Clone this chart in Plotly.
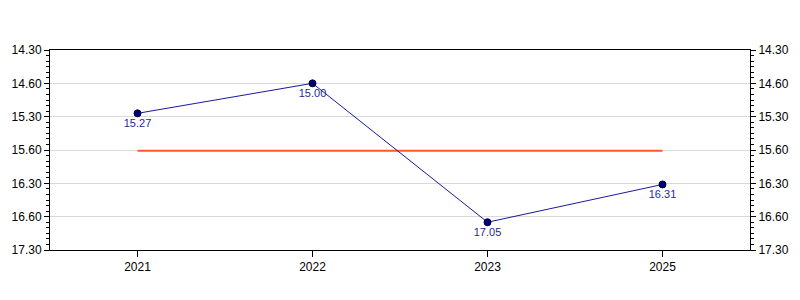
import plotly.graph_objects as go

years = ["2021", "2022", "2023", "2025"]
# times as minutes.seconds labels and their value in minutes
time_labels = ["15.27", "15.00", "17.05", "16.31"]
time_minutes = [15 + 27/60, 15.0, 17 + 5/60, 16 + 31/60]
avg_value = sum(time_minutes) / len(time_minutes)
avg_minutes = [avg_value] * len(years)

tick_vals = [14.5, 15.0, 15.5, 16.0, 16.5, 17.0, 17.5]
tick_text = ["14.30", "14.60", "15.30", "15.60", "16.30", "16.60", "17.30"]

fig = go.Figure()
fig.add_trace(go.Scatter(
    x=years, y=avg_minutes, mode="lines",
    line=dict(color="#FF5A1F", width=2), hoverinfo="skip", showlegend=False))
fig.add_trace(go.Scatter(
    x=years, y=time_minutes, mode="lines+markers+text",
    text=time_labels, textposition="bottom center",
    textfont=dict(family="Liberation Sans, Arial", size=11, color="#1f1fa0"),
    line=dict(color="#1a1a9a", width=1),
    marker=dict(color="#00007a", size=7, line=dict(color="#000033", width=1)),
    showlegend=False))
fig.add_trace(go.Scatter(x=years, y=time_minutes, yaxis="y2", mode="markers",
                         marker=dict(opacity=0), hoverinfo="skip", showlegend=False))

yax = dict(range=[17.5, 14.5], tickmode="array", tickvals=tick_vals, ticktext=tick_text,
           ticks="outside", ticklen=5, tickcolor="black",
           showline=True, linecolor="black", linewidth=1,
           showgrid=True, gridcolor="#d9d9d9", zeroline=False,
           tickfont=dict(family="Liberation Sans, Arial", size=12, color="black"),
           minor=dict(tickmode="linear", tick0=14.5, dtick=1/12, ticks="outside", ticklen=3,
                      tickcolor="black", showgrid=False))

fig.update_layout(
    width=800, height=300,
    margin=dict(l=50, r=50, t=50, b=50),
    plot_bgcolor="white", paper_bgcolor="white",
    xaxis=dict(type="category", range=[-0.5, 3.5], ticks="outside", ticklen=6,
               tickcolor="black", showline=True, linecolor="black", mirror=True,
               showgrid=False,
               tickfont=dict(family="Liberation Sans, Arial", size=12, color="black")),
    yaxis=yax,
    yaxis2=dict(**{k: v for k, v in yax.items() if k != "showgrid"}, showgrid=False,
                overlaying="y", side="right"),
)
fig.write_html("out.html")
